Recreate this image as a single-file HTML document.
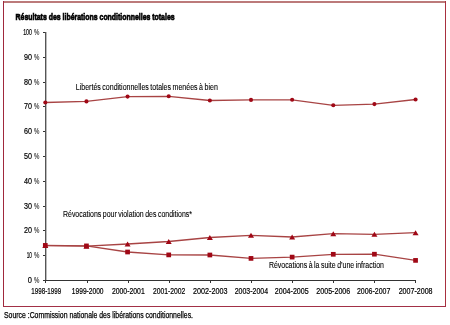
<!DOCTYPE html>
<html><head><meta charset="utf-8"><style>
html,body{margin:0;padding:0;background:#fff;width:450px;height:325px;overflow:hidden}
svg{display:block;will-change:transform;font-family:"Liberation Sans",sans-serif;fill:#000} text{stroke:#000;stroke-width:0.2} .an{stroke-width:0.12;word-spacing:-0.6px} .src{stroke-width:0.25} .pc{stroke-width:0.05} .ti{stroke-width:0.7}
</style></head><body>
<svg width="450" height="325" viewBox="0 0 450 325">
<rect x="3" y="1" width="443" height="2" fill="#bc7a7a"/>
<rect x="3" y="1" width="1" height="306" fill="#a0283c"/>
<rect x="445" y="1" width="1" height="306" fill="#a8303f"/>
<rect x="3" y="306" width="443" height="1" fill="#a23046"/>
<text class="ti" x="15.6" y="19.5" font-weight="bold" font-size="9.6" textLength="159" lengthAdjust="spacingAndGlyphs">Résultats des libérations conditionnelles totales</text>
<line x1="45.5" y1="32" x2="45.5" y2="283" stroke="#555" stroke-width="1"/>
<line x1="46.5" y1="32" x2="46.5" y2="280" stroke="#bbb" stroke-width="1"/>
<line x1="43" y1="280.5" x2="416" y2="280.5" stroke="#333" stroke-width="1"/>
<line x1="43" y1="280.5" x2="45" y2="280.5" stroke="#333" stroke-width="1"/>
<text x="32" y="283.0" font-size="8.4" text-anchor="end" textLength="4.2" lengthAdjust="spacingAndGlyphs">0</text>
<text class="pc" x="33.9" y="283.0" font-size="8.4" textLength="5.4" lengthAdjust="spacingAndGlyphs">%</text>
<line x1="43" y1="255.5" x2="45" y2="255.5" stroke="#333" stroke-width="1"/>
<text x="32" y="258.2" font-size="8.4" text-anchor="end" textLength="5.3" lengthAdjust="spacingAndGlyphs">10</text>
<text class="pc" x="33.9" y="258.2" font-size="8.4" textLength="5.4" lengthAdjust="spacingAndGlyphs">%</text>
<line x1="43" y1="230.5" x2="45" y2="230.5" stroke="#333" stroke-width="1"/>
<text x="32" y="233.4" font-size="8.4" text-anchor="end" textLength="8" lengthAdjust="spacingAndGlyphs">20</text>
<text class="pc" x="33.9" y="233.4" font-size="8.4" textLength="5.4" lengthAdjust="spacingAndGlyphs">%</text>
<line x1="43" y1="206.5" x2="45" y2="206.5" stroke="#333" stroke-width="1"/>
<text x="32" y="208.6" font-size="8.4" text-anchor="end" textLength="8" lengthAdjust="spacingAndGlyphs">30</text>
<text class="pc" x="33.9" y="208.6" font-size="8.4" textLength="5.4" lengthAdjust="spacingAndGlyphs">%</text>
<line x1="43" y1="181.5" x2="45" y2="181.5" stroke="#333" stroke-width="1"/>
<text x="32" y="183.8" font-size="8.4" text-anchor="end" textLength="8" lengthAdjust="spacingAndGlyphs">40</text>
<text class="pc" x="33.9" y="183.8" font-size="8.4" textLength="5.4" lengthAdjust="spacingAndGlyphs">%</text>
<line x1="43" y1="156.5" x2="45" y2="156.5" stroke="#333" stroke-width="1"/>
<text x="32" y="159.0" font-size="8.4" text-anchor="end" textLength="8" lengthAdjust="spacingAndGlyphs">50</text>
<text class="pc" x="33.9" y="159.0" font-size="8.4" textLength="5.4" lengthAdjust="spacingAndGlyphs">%</text>
<line x1="43" y1="131.5" x2="45" y2="131.5" stroke="#333" stroke-width="1"/>
<text x="32" y="134.2" font-size="8.4" text-anchor="end" textLength="8" lengthAdjust="spacingAndGlyphs">60</text>
<text class="pc" x="33.9" y="134.2" font-size="8.4" textLength="5.4" lengthAdjust="spacingAndGlyphs">%</text>
<line x1="43" y1="106.5" x2="45" y2="106.5" stroke="#333" stroke-width="1"/>
<text x="32" y="109.4" font-size="8.4" text-anchor="end" textLength="8" lengthAdjust="spacingAndGlyphs">70</text>
<text class="pc" x="33.9" y="109.4" font-size="8.4" textLength="5.4" lengthAdjust="spacingAndGlyphs">%</text>
<line x1="43" y1="82.5" x2="45" y2="82.5" stroke="#333" stroke-width="1"/>
<text x="32" y="84.6" font-size="8.4" text-anchor="end" textLength="8" lengthAdjust="spacingAndGlyphs">80</text>
<text class="pc" x="33.9" y="84.6" font-size="8.4" textLength="5.4" lengthAdjust="spacingAndGlyphs">%</text>
<line x1="43" y1="57.5" x2="45" y2="57.5" stroke="#333" stroke-width="1"/>
<text x="32" y="59.8" font-size="8.4" text-anchor="end" textLength="8" lengthAdjust="spacingAndGlyphs">90</text>
<text class="pc" x="33.9" y="59.8" font-size="8.4" textLength="5.4" lengthAdjust="spacingAndGlyphs">%</text>
<line x1="43" y1="32.5" x2="45" y2="32.5" stroke="#333" stroke-width="1"/>
<text x="32" y="35.0" font-size="8.4" text-anchor="end" textLength="8.8" lengthAdjust="spacingAndGlyphs">100</text>
<text class="pc" x="33.9" y="35.0" font-size="8.4" textLength="5.4" lengthAdjust="spacingAndGlyphs">%</text>
<rect x="45" y="280" width="1" height="3" fill="#333"/>
<text x="46.2" y="293.8" font-size="8.2" text-anchor="middle" textLength="29.8" lengthAdjust="spacingAndGlyphs">1998-1999</text>
<rect x="87" y="280" width="1" height="3" fill="#333"/>
<text x="87.7" y="293.8" font-size="8.2" text-anchor="middle" textLength="31.7" lengthAdjust="spacingAndGlyphs">1999-2000</text>
<rect x="128" y="280" width="1" height="3" fill="#333"/>
<text x="128.3" y="293.8" font-size="8.2" text-anchor="middle" textLength="32.8" lengthAdjust="spacingAndGlyphs">2000-2001</text>
<rect x="169" y="280" width="1" height="3" fill="#333"/>
<text x="169.2" y="293.8" font-size="8.2" text-anchor="middle" textLength="32.3" lengthAdjust="spacingAndGlyphs">2001-2002</text>
<rect x="210" y="280" width="1" height="3" fill="#333"/>
<text x="210.3" y="293.8" font-size="8.2" text-anchor="middle" textLength="34.5" lengthAdjust="spacingAndGlyphs">2002-2003</text>
<rect x="251" y="280" width="1" height="3" fill="#333"/>
<text x="251.4" y="293.8" font-size="8.2" text-anchor="middle" textLength="33.4" lengthAdjust="spacingAndGlyphs">2003-2004</text>
<rect x="292" y="280" width="1" height="3" fill="#333"/>
<text x="291.7" y="293.8" font-size="8.2" text-anchor="middle" textLength="33.9" lengthAdjust="spacingAndGlyphs">2004-2005</text>
<rect x="333" y="280" width="1" height="3" fill="#333"/>
<text x="333.3" y="293.8" font-size="8.2" text-anchor="middle" textLength="33.9" lengthAdjust="spacingAndGlyphs">2005-2006</text>
<rect x="374" y="280" width="1" height="3" fill="#333"/>
<text x="373.6" y="293.8" font-size="8.2" text-anchor="middle" textLength="33.4" lengthAdjust="spacingAndGlyphs">2006-2007</text>
<rect x="415" y="280" width="1" height="3" fill="#333"/>
<text x="415.6" y="293.8" font-size="8.2" text-anchor="middle" textLength="33.9" lengthAdjust="spacingAndGlyphs">2007-2008</text>
<polyline points="45.30,102.50 86.44,101.40 127.58,96.60 168.72,96.30 209.86,100.50 251.00,99.90 292.14,99.80 333.28,105.30 374.42,104.10 415.56,99.50" fill="none" stroke="#a84444" stroke-width="1.3"/>
<polyline points="45.30,245.60 86.44,246.20 127.58,244.00 168.72,241.50 209.86,237.50 251.00,235.30 292.14,237.00 333.28,233.70 374.42,234.30 415.56,232.70" fill="none" stroke="#a84444" stroke-width="1.3"/>
<polyline points="45.30,245.40 86.44,245.90 127.58,252.00 168.72,254.90 209.86,255.00 251.00,258.40 292.14,257.10 333.28,254.30 374.42,254.20 415.56,260.40" fill="none" stroke="#a84444" stroke-width="1.3"/>
<circle cx="45.30" cy="102.50" r="2.05" fill="#a00816"/>
<circle cx="86.44" cy="101.40" r="2.05" fill="#a00816"/>
<circle cx="127.58" cy="96.60" r="2.05" fill="#a00816"/>
<circle cx="168.72" cy="96.30" r="2.05" fill="#a00816"/>
<circle cx="209.86" cy="100.50" r="2.05" fill="#a00816"/>
<circle cx="251.00" cy="99.90" r="2.05" fill="#a00816"/>
<circle cx="292.14" cy="99.80" r="2.05" fill="#a00816"/>
<circle cx="333.28" cy="105.30" r="2.05" fill="#a00816"/>
<circle cx="374.42" cy="104.10" r="2.05" fill="#a00816"/>
<circle cx="415.56" cy="99.50" r="2.05" fill="#a00816"/>
<path d="M42.30,248.10L45.30,243.10L48.30,248.10Z" fill="#a00816"/>
<path d="M83.44,248.70L86.44,243.70L89.44,248.70Z" fill="#a00816"/>
<path d="M124.58,246.50L127.58,241.50L130.58,246.50Z" fill="#a00816"/>
<path d="M165.72,244.00L168.72,239.00L171.72,244.00Z" fill="#a00816"/>
<path d="M206.86,240.00L209.86,235.00L212.86,240.00Z" fill="#a00816"/>
<path d="M248.00,237.80L251.00,232.80L254.00,237.80Z" fill="#a00816"/>
<path d="M289.14,239.50L292.14,234.50L295.14,239.50Z" fill="#a00816"/>
<path d="M330.28,236.20L333.28,231.20L336.28,236.20Z" fill="#a00816"/>
<path d="M371.42,236.80L374.42,231.80L377.42,236.80Z" fill="#a00816"/>
<path d="M412.56,235.20L415.56,230.20L418.56,235.20Z" fill="#a00816"/>
<rect x="42.95" y="243.05" width="4.7" height="4.7" fill="#a00816"/>
<rect x="84.09" y="243.55" width="4.7" height="4.7" fill="#a00816"/>
<rect x="125.23" y="249.65" width="4.7" height="4.7" fill="#a00816"/>
<rect x="166.37" y="252.55" width="4.7" height="4.7" fill="#a00816"/>
<rect x="207.51" y="252.65" width="4.7" height="4.7" fill="#a00816"/>
<rect x="248.65" y="256.05" width="4.7" height="4.7" fill="#a00816"/>
<rect x="289.79" y="254.75" width="4.7" height="4.7" fill="#a00816"/>
<rect x="330.93" y="251.95" width="4.7" height="4.7" fill="#a00816"/>
<rect x="372.07" y="251.85" width="4.7" height="4.7" fill="#a00816"/>
<rect x="413.21" y="258.05" width="4.7" height="4.7" fill="#a00816"/>
<text class="an" x="75.8" y="89.6" font-size="9.7" textLength="142" lengthAdjust="spacingAndGlyphs">Libertés conditionnelles totales menées à bien</text>
<text class="an" x="63" y="216.6" font-size="9.7" textLength="129" lengthAdjust="spacingAndGlyphs">Révocations pour violation des conditions*</text>
<text class="an" x="268.9" y="268.2" font-size="9.4" textLength="115" lengthAdjust="spacingAndGlyphs">Révocations à la suite d’une infraction</text>
<text class="src" x="4" y="318" font-size="8.6" textLength="189" lengthAdjust="spacingAndGlyphs">Source :Commission nationale des libérations conditionnelles.</text>
</svg></body></html>
